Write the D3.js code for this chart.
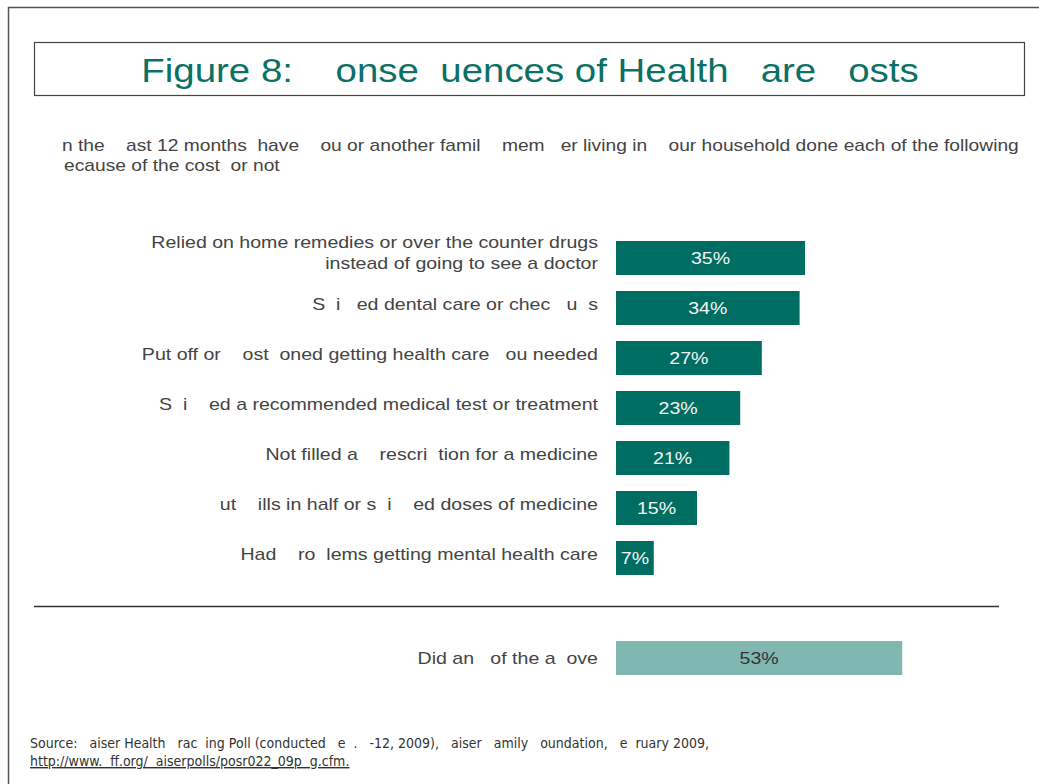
<!DOCTYPE html>
<html>
<head>
<meta charset="utf-8">
<script src="https://cdn.jsdelivr.net/npm/d3@7"></script>
<style>
  html, body { margin: 0; padding: 0; background: #fff; }
  svg text { white-space: pre; }
</style>
</head>
<body>
<svg id="chart" width="1039" height="784"></svg>
<script>
// Survey items (left) and share of respondents (percent)
const categories = [
  ["Relied on home remedies or over the counter drugs", "instead of going to see a doctor"],
  ["S  i   ed dental care or chec   u  s"],
  ["Put off or    ost  oned getting health care   ou needed"],
  ["S  i    ed a recommended medical test or treatment"],
  ["Not filled a    rescri  tion for a medicine"],
  ["ut    ills in half or s  i    ed doses of medicine"],
  ["Had    ro  lems getting mental health care"]
];
const values = [35, 34, 27, 23, 21, 15, 7];
const totalCategory = "Did an   of the a  ove";
const totalValue = 53;

const titleText = "Figure 8:    onse  uences of Health   are   osts";
const questionLines = [
  "n the    ast 12 months  have    ou or another famil    mem   er living in    our household done each of the following",
  "ecause of the cost  or not"
];
const sourceLines = [
  "Source:   aiser Health   rac  ing Poll (conducted   e  .   -12, 2009),   aiser   amily   oundation,   e  ruary 2009,",
  "http://www.  ff.org/  aiserpolls/posr022_09p  g.cfm."
];

const svg = d3.select("#chart");
const teal = "#006d62";
const lightTeal = "#80b7b1";
const textCol = "#444";
const labelFont = "'Liberation Sans', Arial, sans-serif";
const labelSize = 17;
const wide = 1.15;   // horizontal stretch of the body face

// widen a text selection by factor k, keeping its anchor
function stretch(sel, k) {
  sel.each(function () {
    const len = this.getComputedTextLength();
    d3.select(this)
      .attr("textLength", len * k)
      .attr("lengthAdjust", "spacingAndGlyphs");
  });
  return sel;
}

// page frame
svg.append("path")
  .attr("d", "M8.5,784 L8.5,7.5 L1039,7.5")
  .attr("fill", "none").attr("stroke", "#555").attr("stroke-width", 1.5);

// title box
svg.append("rect")
  .attr("x", 34.5).attr("y", 42.5).attr("width", 990).attr("height", 53)
  .attr("fill", "none").attr("stroke", "#444").attr("stroke-width", 1.2);
svg.append("text")
  .attr("x", 530).attr("y", 82)
  .attr("text-anchor", "middle")
  .attr("font-family", labelFont).attr("font-size", 34)
  .attr("fill", "#0b7065")
  .text(titleText)
  .call(stretch, 1.13);

// question text
svg.selectAll("text.q").data(questionLines).join("text")
  .attr("class", "q")
  .attr("x", (d, i) => i === 0 ? 62 : 64)
  .attr("y", (d, i) => 151 + i * 20)
  .attr("font-family", labelFont).attr("font-size", labelSize)
  .attr("fill", textCol)
  .text(d => d)
  .call(stretch, 1.13);

// scales
const x = d3.scaleLinear().domain([0, 100]).range([616, 1156]);
const y = d3.scaleBand()
  .domain(d3.range(categories.length))
  .range([233, 583])
  .paddingInner(0.32).paddingOuter(0.16);

const rows = svg.append("g").selectAll("g").data(values).join("g");

rows.append("rect")
  .attr("x", x(0))
  .attr("y", (d, i) => y(i))
  .attr("width", d => x(d) - x(0))
  .attr("height", y.bandwidth())
  .attr("fill", teal);

rows.append("text")
  .attr("x", d => (x(0) + x(d)) / 2)
  .attr("y", (d, i) => y(i) + y.bandwidth() / 2 + 6)
  .attr("text-anchor", "middle")
  .attr("font-family", labelFont).attr("font-size", labelSize)
  .attr("fill", "#f4f4f4")
  .text(d => d + "%")
  .call(stretch, wide);

// category labels (right aligned against the bars)
rows.each(function (d, i) {
  const lines = categories[i];
  const cy = y(i) + y.bandwidth() / 2;
  d3.select(this).selectAll("text.lab").data(lines).join("text")
    .attr("class", "lab")
    .attr("x", 598)
    .attr("y", (ln, k) => lines.length === 1 ? cy + 2 : cy - 10 + k * 21)
    .attr("text-anchor", "end")
    .attr("font-family", labelFont).attr("font-size", labelSize)
    .attr("fill", textCol)
    .text(ln => ln)
    .call(stretch, wide);
});

// divider
svg.append("line")
  .attr("x1", 34).attr("x2", 999).attr("y1", 606.5).attr("y2", 606.5)
  .attr("stroke", "#333").attr("stroke-width", 1.3);

// summary bar
const ty = 641, th = y.bandwidth();
svg.append("rect")
  .attr("x", x(0)).attr("y", ty)
  .attr("width", x(totalValue) - x(0)).attr("height", th)
  .attr("fill", lightTeal);
svg.append("text")
  .attr("x", (x(0) + x(totalValue)) / 2).attr("y", ty + th / 2 + 6)
  .attr("text-anchor", "middle")
  .attr("font-family", labelFont).attr("font-size", labelSize)
  .attr("fill", "#333")
  .text(totalValue + "%")
  .call(stretch, wide);
svg.append("text")
  .attr("x", 598).attr("y", ty + th / 2 + 6)
  .attr("text-anchor", "end")
  .attr("font-family", labelFont).attr("font-size", labelSize)
  .attr("fill", textCol)
  .text(totalCategory)
  .call(stretch, wide);

// source note, set in a condensed face
svg.selectAll("text.src").data(sourceLines).join("text")
  .attr("class", "src")
  .attr("x", 30)
  .attr("y", (d, i) => 748 + i * 18)
  .attr("font-family", "'DejaVu Sans Condensed', 'Liberation Sans', Arial, sans-serif")
  .attr("font-stretch", "condensed")
  .attr("font-size", 14)
  .attr("fill", "#333")
  .attr("text-decoration", (d, i) => i === 1 ? "underline" : null)
  .text(d => d);
</script>
</body>
</html>
